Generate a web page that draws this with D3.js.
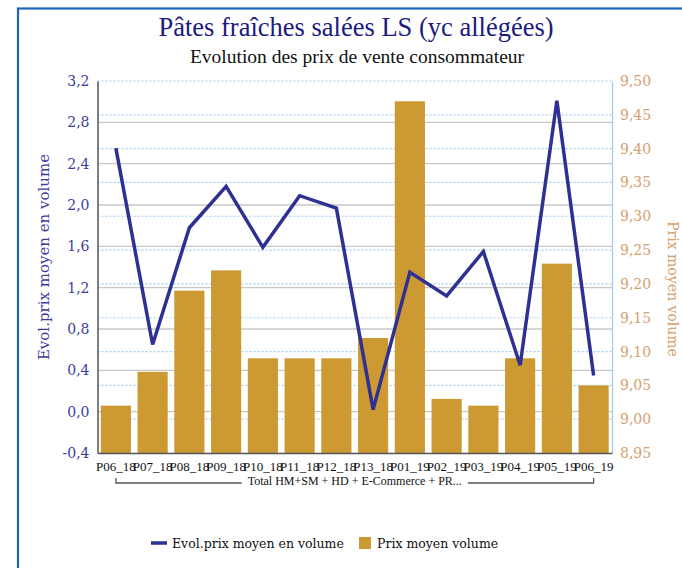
<!DOCTYPE html>
<html>
<head>
<meta charset="utf-8">
<script src="https://cdn.jsdelivr.net/npm/d3@7"></script>
<style>
  body { margin: 0; background: #fff; }
  svg { display: block; }
</style>
</head>
<body>
<div id="chart"></div>
<script>
// data
let periods = ["P06_18", "P07_18", "P08_18", "P09_18", "P10_18", "P11_18", "P12_18",
  "P13_18", "P01_19", "P02_19", "P03_19", "P04_19", "P05_19", "P06_19"];
let evolPrix = [2.55, 0.65, 1.78, 2.18, 1.59, 2.09, 1.97, 0.02, 1.35, 1.12, 1.55, 0.45, 3.01, 0.35];
let prixMoyen = [9.02, 9.07, 9.19, 9.22, 9.09, 9.09, 9.09, 9.12, 9.47, 9.03, 9.02, 9.09, 9.23, 9.05];
let leftTicks = [-0.4, 0.0, 0.4, 0.8, 1.2, 1.6, 2.0, 2.4, 2.8, 3.2];
let rightTicks = [8.95, 9.0, 9.05, 9.1, 9.15, 9.2, 9.25, 9.3, 9.35, 9.4, 9.45, 9.5];
let groupLabel = "Total HM+SM + HD + E-Commerce + PR...";

let svgWidth = 682,
  svgHeight = 568;

// plot area
let margin = { top: 81, right: 70, bottom: 115, left: 97.5 };
let chartWidth = svgWidth - margin.left - margin.right;
let chartHeight = svgHeight - margin.top - margin.bottom;

let lineColor = "#2e3192",
  barColor = "#cc9933",
  leftColor = "#3c3c9c",
  rightColor = "#d4a070";

let svg = d3.select("#chart").append("svg")
  .attr("width", svgWidth)
  .attr("height", svgHeight);

// blue frame
svg.append("rect")
  .attr("x", 18).attr("y", 8.5)
  .attr("width", 700).attr("height", 600)
  .attr("fill", "none")
  .attr("stroke", "#1f64b8")
  .attr("stroke-width", 2.2);

// titles
svg.append("text")
  .attr("x", 356).attr("y", 35.5)
  .attr("text-anchor", "middle")
  .style("font-family", "'Liberation Serif', serif")
  .style("font-size", "26.5px")
  .attr("fill", "#1b1b80")
  .text("Pâtes fraîches salées LS (yc allégées)");

svg.append("text")
  .attr("x", 357).attr("y", 62.5)
  .attr("text-anchor", "middle")
  .style("font-family", "'Liberation Serif', serif")
  .style("font-size", "19.5px")
  .attr("fill", "#111")
  .text("Evolution des prix de vente consommateur");

let chartGroup = svg.append("g")
  .attr("transform", `translate(${margin.left}, ${margin.top})`);

// scales
let xScale = d3.scaleBand()
  .domain(periods)
  .range([0, chartWidth])
  .paddingInner(0.18)
  .paddingOuter(0.09);

let yLeft = d3.scaleLinear().domain([-0.4, 3.2]).range([chartHeight, 0]);
let yRight = d3.scaleLinear().domain([8.95, 9.5]).range([chartHeight, 0]);

// gridlines: solid grey on left ticks, dotted blue on right ticks
chartGroup.append("g")
  .selectAll("line")
  .data(leftTicks.slice(1, -1))
  .enter()
  .append("line")
  .attr("x1", 0).attr("x2", chartWidth)
  .attr("y1", (d) => yLeft(d)).attr("y2", (d) => yLeft(d))
  .attr("stroke", "#c8c8c8")
  .attr("stroke-width", 1.3);

chartGroup.append("g")
  .selectAll("line")
  .data(rightTicks.slice(1))
  .enter()
  .append("line")
  .attr("x1", 0).attr("x2", chartWidth)
  .attr("y1", (d) => yRight(d)).attr("y2", (d) => yRight(d))
  .attr("stroke", "#a6cdf2")
  .attr("stroke-width", 1.2)
  .attr("stroke-dasharray", "2,2");

// bars
chartGroup.selectAll(".bar")
  .data(periods)
  .enter()
  .append("rect")
  .classed("bar", true)
  .attr("x", (d) => xScale(d))
  .attr("width", xScale.bandwidth())
  .attr("y", (d, i) => yRight(prixMoyen[i]))
  .attr("height", (d, i) => chartHeight - yRight(prixMoyen[i]))
  .attr("fill", barColor);

// line
let lineGen = d3.line()
  .x((d, i) => xScale(periods[i]) + xScale.bandwidth() / 2)
  .y((d) => yLeft(d));

chartGroup.append("path")
  .datum(evolPrix)
  .attr("d", lineGen)
  .attr("fill", "none")
  .attr("stroke", lineColor)
  .attr("stroke-width", 3.5)
  .attr("stroke-linejoin", "miter");

// axes
let leftAxis = d3.axisLeft(yLeft)
  .tickValues(leftTicks)
  .tickSize(0)
  .tickPadding(8)
  .tickFormat((d) => d3.format(".1f")(d).replace(".", ",").replace("−", "-"));

let rightAxis = d3.axisRight(yRight)
  .tickValues(rightTicks)
  .tickSize(0)
  .tickPadding(8)
  .tickFormat((d) => d3.format(".2f")(d).replace(".", ","));

let leftAxisGroup = chartGroup.append("g").call(leftAxis);
leftAxisGroup.select(".domain").attr("stroke", "#555").attr("stroke-width", 1.5);
leftAxisGroup.selectAll("text")
  .attr("fill", leftColor)
  .style("font-family", "'DejaVu Serif', serif")
  .style("font-size", "14px");

let rightAxisGroup = chartGroup.append("g")
  .attr("transform", `translate(${chartWidth}, 0)`)
  .call(rightAxis);
rightAxisGroup.select(".domain").attr("stroke", "#9ccaf2").attr("stroke-width", 1.2);
rightAxisGroup.selectAll("text")
  .attr("fill", rightColor)
  .style("font-family", "'DejaVu Serif', serif")
  .style("font-size", "14px");

let bottomAxis = d3.axisBottom(xScale).tickSize(0).tickPadding(9);
let bottomAxisGroup = chartGroup.append("g")
  .attr("transform", `translate(0, ${chartHeight})`)
  .call(bottomAxis);
bottomAxisGroup.select(".domain").attr("stroke", "#555").attr("stroke-width", 1.5);
bottomAxisGroup.selectAll("text")
  .attr("fill", "#111")
  .style("font-family", "'Liberation Serif', serif")
  .style("font-size", "13px");

// group bracket under the category labels
let firstX = xScale(periods[0]) + xScale.bandwidth() / 2;
let lastX = xScale(periods[periods.length - 1]) + xScale.bandwidth() / 2;
let bracketY = chartHeight + 30;
let groupText = chartGroup.append("text")
  .attr("x", chartWidth / 2)
  .attr("y", chartHeight + 32)
  .attr("text-anchor", "middle")
  .style("font-family", "'Liberation Serif', serif")
  .style("font-size", "12px")
  .attr("fill", "#111")
  .text(groupLabel);
let textWidth = groupText.node().getComputedTextLength();

chartGroup.append("path")
  .attr("d", `M${firstX},${bracketY - 5}V${bracketY}H${chartWidth / 2 - textWidth / 2 - 6}`
    + `M${chartWidth / 2 + textWidth / 2 + 6},${bracketY}H${lastX}V${bracketY - 5}`)
  .attr("fill", "none")
  .attr("stroke", "#555")
  .attr("stroke-width", 1.3);

// axis titles
svg.append("text")
  .attr("transform", `translate(49, ${margin.top + chartHeight / 2 - 10}) rotate(-90)`)
  .attr("text-anchor", "middle")
  .style("font-family", "'DejaVu Serif', serif")
  .style("font-size", "15px")
  .attr("fill", leftColor)
  .text("Evol.prix moyen en volume");

svg.append("text")
  .attr("transform", `translate(668, ${margin.top + chartHeight / 2 + 22}) rotate(90)`)
  .attr("text-anchor", "middle")
  .style("font-family", "'DejaVu Serif', serif")
  .style("font-size", "14px")
  .attr("fill", rightColor)
  .text("Prix moyen volume");

// legend
let legend = svg.append("g").attr("transform", "translate(151, 543)");
legend.append("line")
  .attr("x1", 0).attr("x2", 16)
  .attr("y1", 0).attr("y2", 0)
  .attr("stroke", lineColor)
  .attr("stroke-width", 3.5);
legend.append("text")
  .attr("x", 21).attr("y", 5)
  .style("font-family", "'DejaVu Serif', serif")
  .style("font-size", "12.5px")
  .attr("fill", "#111")
  .text("Evol.prix moyen en volume");
legend.append("rect")
  .attr("x", 208).attr("y", -6)
  .attr("width", 12).attr("height", 12)
  .attr("fill", barColor);
legend.append("text")
  .attr("x", 226).attr("y", 5)
  .style("font-family", "'DejaVu Serif', serif")
  .style("font-size", "12.5px")
  .attr("fill", "#111")
  .text("Prix moyen volume");
</script>
</body>
</html>
